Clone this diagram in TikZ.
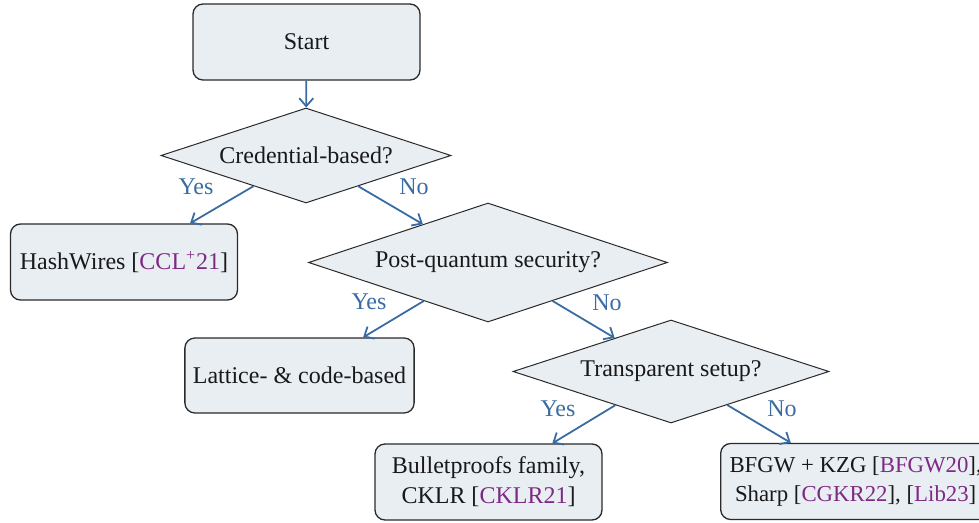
\documentclass[tikz,border=0pt]{standalone}
\usepackage{fontspec}
\setmainfont{Liberation Serif}
\usetikzlibrary{shapes.geometric,arrows.meta}

\definecolor{boxfill}{HTML}{E9EEF3}
\definecolor{boxline}{HTML}{2A2A2A}
\definecolor{flow}{HTML}{3A6CA3}
\definecolor{cite}{HTML}{7E2A85}

\newcommand{\cref}[1]{\textcolor{cite}{#1}}

\tikzset{
  every node/.style={font=\rmfamily\fontsize{12}{15}\selectfont, text=black!90},
  stepbox/.style={draw=boxline, line width=0.65pt, fill=boxfill,
    rounded corners=5pt, minimum width=113.5pt, minimum height=38pt,
    inner xsep=4pt, align=center},
  question/.style={draw=boxline, line width=0.5pt, fill=boxfill,
    shape=diamond, shape aspect=3, inner sep=0pt},
  flowarrow/.style={draw=flow, line width=0.9pt,
    -{Straight Barb[length=4pt,width=7pt,line width=0.9pt]}},
  answer/.style={text=flow}
}

\begin{document}
\begin{tikzpicture}[x=0.5pt, y=-0.5pt]
  \useasboundingbox (0,0) rectangle (979,523);

  % decision nodes
  \node[stepbox] (start) at (306.5,42) {Start};
  \node[question, minimum width=145pt, minimum height=47.5pt]
    (cred) at (306,155.5) {Credential-based?};
  \node[stepbox] (hash) at (124,262) {HashWires [\cref{CCL\textsuperscript{+}21}]};
  \node[question, minimum width=179.5pt, minimum height=59.5pt]
    (pq) at (488,262.5) {Post-quantum security?};
  \node[stepbox, minimum height=37.5pt] (latt) at (299.5,375.5) {Lattice- \& code-based};
  \node[question, minimum width=158pt, minimum height=51.5pt]
    (trans) at (671,371.5) {Transparent setup?};
  \node[stepbox] (bullet) at (488.5,482) {Bulletproofs family,\\CKLR [\cref{CKLR21}]};
  % this box runs past the right edge of the page
  \node[stepbox, anchor=west, minimum width=135pt,
        font=\rmfamily\fontsize{11.4}{14.8}\selectfont]
    (bfgw) at (720,481.5)
    {BFGW + KZG [\cref{BFGW20}],\\Sharp [\cref{CGKR22}], [\cref{Lib23}]};

  % connectors
  \draw[flowarrow] (start) -- (cred);
  \draw[flowarrow] (cred) -- (hash);
  \draw[flowarrow] (cred) -- (pq);
  \draw[flowarrow] (pq) -- (latt);
  \draw[flowarrow] (pq) -- (trans);
  \draw[flowarrow] (trans) -- (bullet);
  \draw[flowarrow] (trans) -- (bfgw);

  % branch labels
  \node[answer] (y1) at (196,187) {Yes};
  \node[answer] (n1) at (414,187) {No};
  \node[answer] (y2) at (369,302) {Yes};
  \node[answer] (n2) at (607,303) {No};
  \node[answer] (y3) at (558,409) {Yes};
  \node[answer] (n3) at (782,409) {No};
\end{tikzpicture}
\end{document}
